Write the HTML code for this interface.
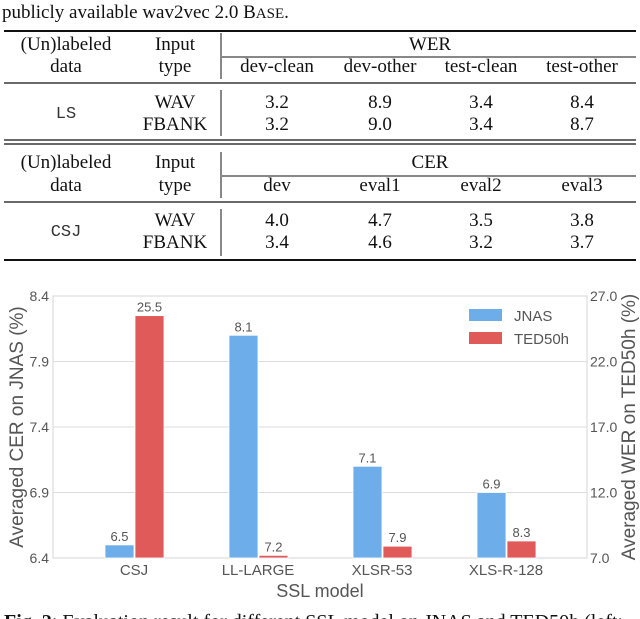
<!DOCTYPE html>
<html><head><meta charset="utf-8"><style>
html,body{margin:0;padding:0;background:#fff;overflow:hidden}
svg{display:block}
.t{font-family:"Liberation Serif",serif;font-size:19px;fill:#111}
.m{font-family:"Liberation Mono",monospace;font-size:17px;fill:#333}
.c{font-family:"Liberation Sans",sans-serif;fill:#555}
</style></head><body>
<svg id="s" width="640" height="619" viewBox="0 0 640 619">
<g>
<text class="t" x="2" y="18">publicly available wav2vec 2.0 B<tspan font-size="15">ASE</tspan>.</text>
<line x1="4" y1="31" x2="636" y2="31" stroke="#111" stroke-width="2"/>
<g text-anchor="middle">
<text class="t" x="66" y="50">(Un)labeled</text><text class="t" x="66" y="72">data</text>
<text class="t" x="175" y="50">Input</text><text class="t" x="175" y="72">type</text>
<text class="t" x="430" y="50">WER</text>
<text class="t" x="277" y="72">dev-clean</text><text class="t" x="380" y="72">dev-other</text>
<text class="t" x="481" y="72">test-clean</text><text class="t" x="582" y="72">test-other</text>
<text class="m" x="66" y="118">LS</text>
<text class="t" x="175" y="108">WAV</text><text class="t" x="175" y="130">FBANK</text>
<text class="t" x="277" y="108">3.2</text><text class="t" x="380" y="108">8.9</text><text class="t" x="481" y="108">3.4</text><text class="t" x="582" y="108">8.4</text>
<text class="t" x="277" y="130">3.2</text><text class="t" x="380" y="130">9.0</text><text class="t" x="481" y="130">3.4</text><text class="t" x="582" y="130">8.7</text>
<text class="t" x="66" y="168">(Un)labeled</text><text class="t" x="66" y="191">data</text>
<text class="t" x="175" y="168">Input</text><text class="t" x="175" y="191">type</text>
<text class="t" x="430" y="168">CER</text>
<text class="t" x="277" y="191">dev</text><text class="t" x="380" y="191">eval1</text>
<text class="t" x="481" y="191">eval2</text><text class="t" x="582" y="191">eval3</text>
<text class="m" x="66" y="236">CSJ</text>
<text class="t" x="175" y="226">WAV</text><text class="t" x="175" y="248">FBANK</text>
<text class="t" x="277" y="226">4.0</text><text class="t" x="380" y="226">4.7</text><text class="t" x="481" y="226">3.5</text><text class="t" x="582" y="226">3.8</text>
<text class="t" x="277" y="248">3.4</text><text class="t" x="380" y="248">4.6</text><text class="t" x="481" y="248">3.2</text><text class="t" x="582" y="248">3.7</text>
</g>
<g stroke="#111">
<line x1="222" y1="57" x2="636" y2="57" stroke-width="1"/>
<line x1="4" y1="83" x2="636" y2="83" stroke-width="1.2"/>
<line x1="4" y1="140" x2="636" y2="140" stroke-width="1.2"/>
<line x1="4" y1="144" x2="636" y2="144" stroke-width="1.2"/>
<line x1="222" y1="176" x2="636" y2="176" stroke-width="1"/>
<line x1="4" y1="202" x2="636" y2="202" stroke-width="1.2"/>
<line x1="4" y1="260" x2="636" y2="260" stroke-width="2"/>
<line x1="221" y1="33" x2="221" y2="79" stroke-width="1"/>
<line x1="221" y1="90" x2="221" y2="136" stroke-width="1"/>
<line x1="221" y1="152" x2="221" y2="198" stroke-width="1"/>
<line x1="221" y1="209" x2="221" y2="256" stroke-width="1"/>
</g>
</g>
<g id="chart"></g>
<text x="4" y="628" style="font-family:'Liberation Serif',serif;font-size:20px" fill="#111"><tspan font-weight="bold">Fig. 2</tspan>: Evaluation result for different SSL model on JNAS and TED50h (left: ...)</text>
</svg>
<script>
const categories=["CSJ","LL-LARGE","XLSR-53","XLS-R-128"];
const jnasValues=[6.5,8.1,7.1,6.9];
const tedValues=[25.5,7.2,7.9,8.3];
const leftTicks=[6.4,6.9,7.4,7.9,8.4];
const rightTicks=[7.0,12.0,17.0,22.0,27.0];
const NS="http://www.w3.org/2000/svg";
const g=document.getElementById("chart");
const L=53,R=587,T=296,B=558;
const yL=v=>B-(v-6.4)/(8.4-6.4)*(B-T);
const yR=v=>B-(v-7)/(27-7)*(B-T);
const xC=i=>134+i*124;
function mk(tag,attrs,txt){const e=document.createElementNS(NS,tag);for(const k in attrs)e.setAttribute(k,attrs[k]);if(txt!==undefined)e.textContent=txt;g.appendChild(e);return e;}
leftTicks.forEach((v,i)=>{
 const y=yL(v);
 const gl=mk("line",{x1:L,x2:R,y1:y,y2:y,stroke:"#ddd","stroke-width":1});
 
 
 const t=mk("text",{x:L-4,y:y+5,"text-anchor":"end",class:"c","font-size":14},v.toFixed(1));
 
 
});
rightTicks.forEach(v=>{
 const t=mk("text",{x:R+3,y:yR(v)+5,class:"c","font-size":14},v.toFixed(1));
 
 
});
const fr=mk("rect",{x:L,y:T,width:R-L,height:B-T,fill:"none",stroke:"#ddd","stroke-width":1.2});


const bw=29;
categories.forEach((c,i)=>{
 const x=xC(i);
 const yb=yL(jnasValues[i]);
 const b1=mk("rect",{x:x-bw,y:yb,width:bw,height:B-yb,fill:"#6daeea",stroke:"#fff","stroke-width":0.8});
 
 
 const l1=mk("text",{x:x-bw/2,y:yb-4,"text-anchor":"middle",class:"c","font-size":13},jnasValues[i].toFixed(1));
 
 
 const yr=yR(tedValues[i]);
 const b2=mk("rect",{x:x+1,y:yr,width:bw,height:B-yr,fill:"#e05a5a",stroke:"#fff","stroke-width":0.8});
 
 
 const l2=mk("text",{x:x+1+bw/2,y:yr-4,"text-anchor":"middle",class:"c","font-size":13},tedValues[i].toFixed(1));
 
 
 const cl=mk("text",{x:x,y:B+17,"text-anchor":"middle",class:"c","font-size":15},c);
 
 
});
const xt=mk("text",{x:(L+R)/2,y:B+39,"text-anchor":"middle",class:"c","font-size":18},"SSL model");


const yt=mk("text",{x:0,y:0,"text-anchor":"middle",class:"c","font-size":19,transform:`translate(23,${(T+B)/2}) rotate(-90)`},"Averaged CER on JNAS (%)");


const yt2=mk("text",{x:0,y:0,"text-anchor":"middle",class:"c","font-size":19,transform:`translate(635,${(T+B)/2}) rotate(-90)`},"Averaged WER on TED50h (%)");


const lg1=mk("rect",{x:469,y:309,width:33,height:12,fill:"#6daeea"});


const lt1=mk("text",{x:514,y:321,class:"c","font-size":15},"JNAS");


const lg2=mk("rect",{x:469,y:332,width:33,height:12,fill:"#e05a5a"});


const lt2=mk("text",{x:514,y:344,class:"c","font-size":15},"TED50h");


</script>
</body></html>
